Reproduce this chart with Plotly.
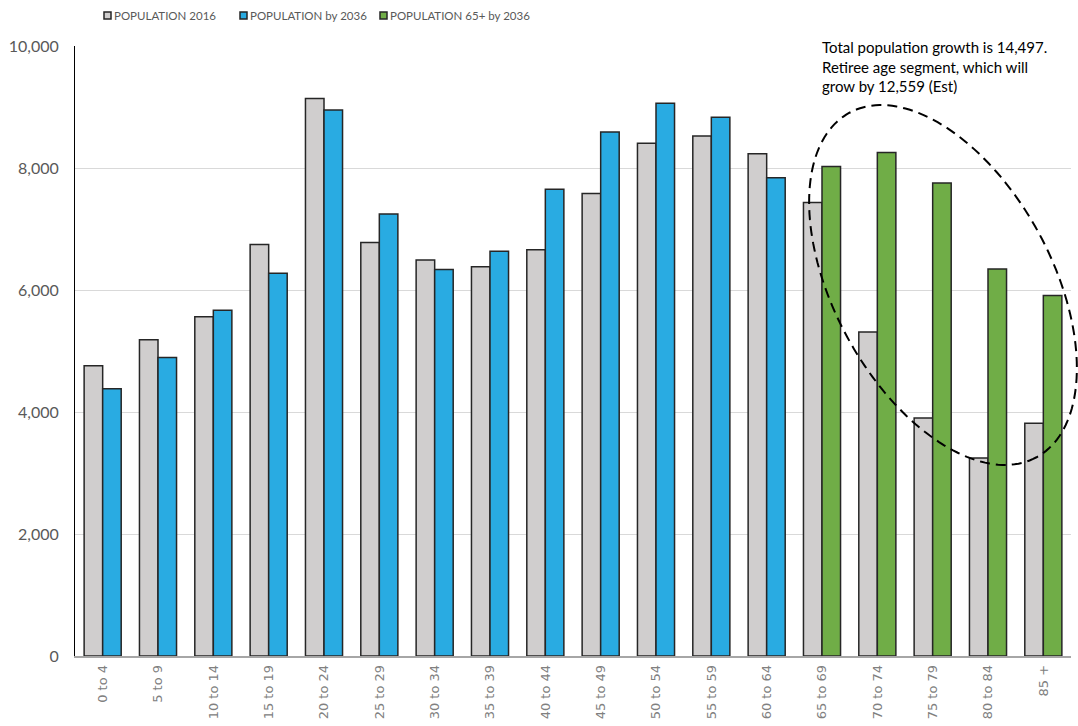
import numpy as np
import plotly.graph_objects as go

# Five-year age bands
age_groups = ["0 to 4", "5 to 9", "10 to 14", "15 to 19", "20 to 24", "25 to 29",
              "30 to 34", "35 to 39", "40 to 44", "45 to 49", "50 to 54", "55 to 59",
              "60 to 64", "65 to 69", "70 to 74", "75 to 79", "80 to 84", "85 +"]

# Population counts per band
pop_2016 = [4760, 5185, 5560, 6745, 9140, 6780, 6490, 6380, 6660, 7580, 8405, 8525,
            8235, 7435, 5310, 3900, 3245, 3815]
pop_2036 = [4380, 4895, 5670, 6275, 8950, 7245, 6335, 6635, 7650, 8590, 9060, 8830,
            7840, None, None, None, None, None]
pop_65_2036 = [None] * 13 + [8025, 8255, 7755, 6345, 5910]

y_ticks = [0, 2000, 4000, 6000, 8000, 10000]

series_names = ["POPULATION 2016", "POPULATION by 2036", "POPULATION 65+ by 2036"]
colors = ["#d0cece", "#29abe2", "#70ad47"]
edge = "#262626"

note_text = ("Total population growth is 14,497.<br>"
             "Retiree age segment, which will<br>"
             "grow by 12,559 (Est)")

W, H = 1078, 726
M_L, M_R, M_T, M_B = 75, 7, 46, 70
PW, PH = W - M_L - M_R, H - M_T - M_B


def to_paper(px, py):
    return (px - M_L) / PW, (H - M_B - py) / PH


idx = list(range(len(age_groups)))

fig = go.Figure()
fig.add_trace(go.Bar(x=idx, y=pop_2016, name=series_names[0], offsetgroup="a",
                     marker=dict(color=colors[0], line=dict(color=edge, width=1.5))))
fig.add_trace(go.Bar(x=idx, y=pop_2036, name=series_names[1], offsetgroup="b",
                     marker=dict(color=colors[1], line=dict(color=edge, width=1.5))))
fig.add_trace(go.Bar(x=idx, y=pop_65_2036, name=series_names[2], offsetgroup="b",
                     marker=dict(color=colors[2], line=dict(color=edge, width=1.5))))

shapes = []
annotations = []

# No gridline along the top edge of the plot
shapes.append(dict(type="line", xref="paper", yref="paper", x0=0.002, x1=1, y0=1, y1=1,
                   line=dict(color="white", width=2), layer="above"))

# Legend row drawn across the top
legend_x = [104, 240, 380]
for lx, name, col in zip(legend_x, series_names, colors):
    x0, y0 = to_paper(lx, 19)
    x1, y1 = to_paper(lx + 7, 12)
    shapes.append(dict(type="rect", xref="paper", yref="paper", x0=x0, x1=x1, y0=y0, y1=y1,
                       fillcolor=col, line=dict(color=edge, width=1.5)))
    tx, ty = to_paper(lx + 8, 15.5)
    annotations.append(dict(x=tx, y=ty, xref="paper", yref="paper", text=name,
                            showarrow=False, xanchor="left", yanchor="middle",
                            font=dict(family="Lato", size=11.5, color="#595959")))

# Dashed ellipse around the retiree age bands
cx, cy, a, b = 943, 285, 196, 109
phi = np.radians(61.5)
t = np.linspace(0, 2 * np.pi, 181)
ex = cx + a * np.cos(t) * np.cos(phi) - b * np.sin(t) * np.sin(phi)
ey = cy + a * np.cos(t) * np.sin(phi) + b * np.sin(t) * np.cos(phi)
pts = [to_paper(px, py) for px, py in zip(ex, ey)]
path = "M " + " L ".join(f"{px:.5f},{py:.5f}" for px, py in pts) + " Z"
shapes.append(dict(type="path", xref="paper", yref="paper", path=path,
                   line=dict(color="black", width=2, dash="10px,6px")))

nx, ny = to_paper(820, 36)
annotations.append(dict(x=nx, y=ny, xref="paper", yref="paper", text=note_text,
                        showarrow=False, xanchor="left", yanchor="top", align="left",
                        font=dict(family="Lato", size=15, color="black")))

fig.update_layout(
    width=W, height=H,
    margin=dict(l=M_L, r=M_R, t=M_T, b=M_B),
    paper_bgcolor="white", plot_bgcolor="white",
    barmode="group", bargap=0.33, bargroupgap=0,
    showlegend=False,
    shapes=shapes, annotations=annotations,
    xaxis=dict(range=[-0.5, len(age_groups) - 0.5], tickvals=idx, ticktext=age_groups,
               tickangle=-90, showgrid=False, zeroline=False,
               showline=True, linecolor="#a6a6a6", linewidth=1.5, ticks="",
               ticklabelstandoff=2,
               tickfont=dict(family="DejaVu Sans", size=13, color="#808080")),
    yaxis=dict(range=[0, 10000], tickvals=y_ticks, tickformat=",",
               showgrid=True, gridcolor="#d9d9d9", gridwidth=1, zeroline=False,
               showline=True, linecolor="black", linewidth=1, ticks="",
               ticklabelstandoff=12,
               tickfont=dict(family="Lato", size=16, color="#595959")),
)

fig.write_html("out.html")
